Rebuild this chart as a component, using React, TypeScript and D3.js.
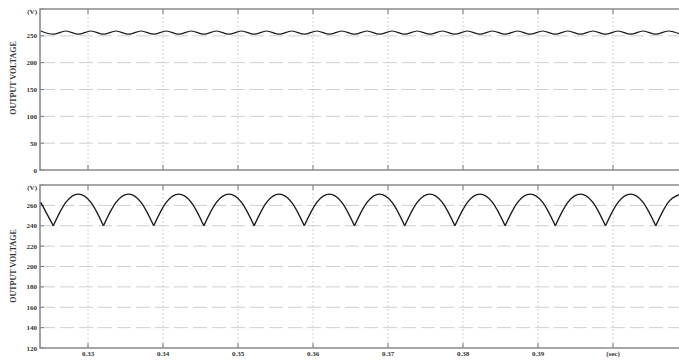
import { useEffect, useRef } from 'react'
import * as d3 from 'd3'

// sample instants (s): alternating ripple troughs / peaks
const sampleTimes = [
  0.3237, 0.32537, 0.32704, 0.32872, 0.33039, 0.33206, 0.33373, 0.33541, 0.33708, 0.33876,
  0.34043, 0.3421, 0.34377, 0.34545, 0.34712, 0.3488, 0.35047, 0.35215, 0.35381, 0.35549,
  0.35716, 0.35884, 0.36051, 0.36219, 0.36385, 0.36553, 0.3672, 0.36888, 0.37055, 0.37223,
  0.37389, 0.37558, 0.37724, 0.37892, 0.38059, 0.38227, 0.38393, 0.38562, 0.38728, 0.38896,
  0.39063, 0.39231, 0.39397, 0.39566, 0.39732, 0.399, 0.40067, 0.40235, 0.40401, 0.4057,
  0.40736, 0.40905,
]

// upper panel: filtered output voltage (V)
const filteredVolts = [
  259, 253, 259, 253, 259, 253, 259, 253, 259, 253,
  259, 253, 259, 253, 259, 253, 259, 253, 259, 253,
  259, 253, 259, 253, 259, 253, 259, 253, 259, 253,
  259, 253, 259, 253, 259, 253, 259, 253, 259, 253,
  259, 253, 259, 253, 259, 253, 259, 253, 259, 253,
  259, 253,
]

// lower panel: rectified output voltage (V)
const rectifiedVolts = [
  263, 240, 263, 271, 263, 240, 263, 271, 263, 240,
  263, 271, 263, 240, 263, 271, 263, 240, 263, 271,
  263, 240, 263, 271, 263, 240, 263, 271, 263, 240,
  263, 271, 263, 240, 263, 271, 263, 240, 263, 271,
  263, 240, 263, 271, 263, 240, 263, 271, 263, 240,
  263, 271,
]

const timeTicks = [0.33, 0.34, 0.35, 0.36, 0.37, 0.38, 0.39, 0.4]
const timeTickLabels = ['0.33', '0.34', '0.35', '0.36', '0.37', '0.38', '0.39', '(sec)']

const topTicks = [0, 50, 100, 150, 200, 250, 300]
const topTickLabels = ['0', '50', '100', '150', '200', '250', '(V)']

const bottomTicks = [120, 140, 160, 180, 200, 220, 240, 260, 280]
const bottomTickLabels = ['120', '140', '160', '180', '200', '220', '240', '260', '(V)']

const W = 679
const H = 360
const FONT = '"Liberation Serif", "DejaVu Serif", serif'

interface Pt {
  t: number
  v: number
}

const App = () => {
  const svgRef = useRef<SVGSVGElement>(null)

  useEffect(() => {
    if (!svgRef.current) return
    const svg = d3.select(svgRef.current)
    svg.selectAll('*').remove()

    const x = d3.scaleLinear().domain([0.3236, 0.41]).range([40, 688])

    const panels = [
      {
        values: filteredVolts,
        ticks: topTicks,
        labels: topTickLabels,
        domain: [0, 300],
        range: [170, 9],
        titleY: 78,
        cusps: false,
        timeLabels: false,
      },
      {
        values: rectifiedVolts,
        ticks: bottomTicks,
        labels: bottomTickLabels,
        domain: [120, 280],
        range: [348, 185],
        titleY: 266,
        cusps: true,
        timeLabels: true,
      },
    ]

    panels.forEach((p, idx) => {
      const y = d3.scaleLinear().domain(p.domain).range(p.range)
      const g = svg.append('g')
      const [yBot, yTop] = p.range

      g.append('clipPath')
        .attr('id', `clip${idx}`)
        .append('rect')
        .attr('x', 40)
        .attr('y', yTop)
        .attr('width', 660)
        .attr('height', yBot - yTop)

      // horizontal grid
      g.append('g')
        .selectAll('line')
        .data(p.ticks.slice(1, -1))
        .enter()
        .append('line')
        .attr('x1', 41)
        .attr('x2', W)
        .attr('y1', (d) => y(d))
        .attr('y2', (d) => y(d))
        .attr('stroke', '#cfcfcf')
        .attr('stroke-width', 1)
        .attr('stroke-dasharray', '14,5')

      // vertical grid
      g.append('g')
        .selectAll('line')
        .data(timeTicks)
        .enter()
        .append('line')
        .attr('x1', (d) => x(d))
        .attr('x2', (d) => x(d))
        .attr('y1', yTop)
        .attr('y2', yBot)
        .attr('stroke', '#d2d2d2')
        .attr('stroke-width', 1)
        .attr('stroke-dasharray', '2,2')

      // tick marks on top / bottom frame
      g.append('g')
        .selectAll('line')
        .data(timeTicks)
        .enter()
        .append('line')
        .attr('x1', (d) => x(d))
        .attr('x2', (d) => x(d))
        .attr('y1', yTop)
        .attr('y2', yTop + 5)
        .attr('stroke', '#777')
      g.append('g')
        .selectAll('line')
        .data(timeTicks)
        .enter()
        .append('line')
        .attr('x1', (d) => x(d))
        .attr('x2', (d) => x(d))
        .attr('y1', yBot)
        .attr('y2', yBot - 5)
        .attr('stroke', '#777')

      // left ticks
      g.append('g')
        .selectAll('line')
        .data(p.ticks)
        .enter()
        .append('line')
        .attr('x1', 40)
        .attr('x2', 44)
        .attr('y1', (d) => y(d))
        .attr('y2', (d) => y(d))
        .attr('stroke', '#777')

      // frame
      g.append('path')
        .attr('d', `M${W + 2},${yTop}H40V${yBot}H${W + 2}`)
        .attr('fill', 'none')
        .attr('stroke', '#8a8a8a')
        .attr('stroke-width', 1.6)

      // tick labels
      g.append('g')
        .selectAll('text')
        .data(p.ticks)
        .enter()
        .append('text')
        .attr('x', 37)
        .attr('y', (d, i) => y(d) + (i === p.ticks.length - 1 ? 4.5 : 2.5))
        .attr('text-anchor', 'end')
        .style('font-family', FONT)
        .style('font-size', '7px')
        .style('font-weight', 'bold')
        .attr('fill', '#333')
        .text((d, i) => p.labels[i])

      // axis title
      g.append('text')
        .attr('transform', `translate(16,${p.titleY}) rotate(-90)`)
        .attr('text-anchor', 'middle')
        .style('font-family', FONT)
        .style('font-size', '8px')
        .style('font-weight', 'bold')
        .attr('fill', '#333')
        .text('OUTPUT VOLTAGE')

      // waveform
      const pts: Pt[] = sampleTimes.map((t, i) => ({ t, v: p.values[i] }))
      const segments: Pt[][] = []
      if (p.cusps) {
        let cur: Pt[] = []
        pts.forEach((pt, i) => {
          cur.push(pt)
          const prev = pts[i - 1]
          const next = pts[i + 1]
          if (prev && next && pt.v < prev.v && pt.v < next.v) {
            segments.push(cur)
            cur = [pt]
          }
        })
        segments.push(cur)
      } else {
        segments.push(pts)
      }

      const line = d3
        .line<Pt>()
        .x((d) => x(d.t))
        .y((d) => y(d.v))
        .curve(d3.curveMonotoneX)

      g.append('g')
        .attr('clip-path', `url(#clip${idx})`)
        .selectAll('path')
        .data(segments)
        .enter()
        .append('path')
        .attr('d', (d) => line(d))
        .attr('fill', 'none')
        .attr('stroke', '#1a1a1a')
        .attr('stroke-width', p.cusps ? 1.4 : 1.2)

      if (p.timeLabels) {
        g.append('g')
          .selectAll('text')
          .data(timeTicks)
          .enter()
          .append('text')
          .attr('x', (d) => x(d))
          .attr('y', yBot + 8)
          .attr('text-anchor', 'middle')
          .style('font-family', FONT)
          .style('font-size', '7px')
          .style('font-weight', 'bold')
          .attr('fill', '#333')
          .text((d, i) => timeTickLabels[i])
      }
    })
  }, [])

  return (
    <svg
      ref={svgRef}
      width={W}
      height={H}
      style={{ position: 'absolute', left: 0, top: 0, background: '#fff' }}
    />
  )
}

export default App
